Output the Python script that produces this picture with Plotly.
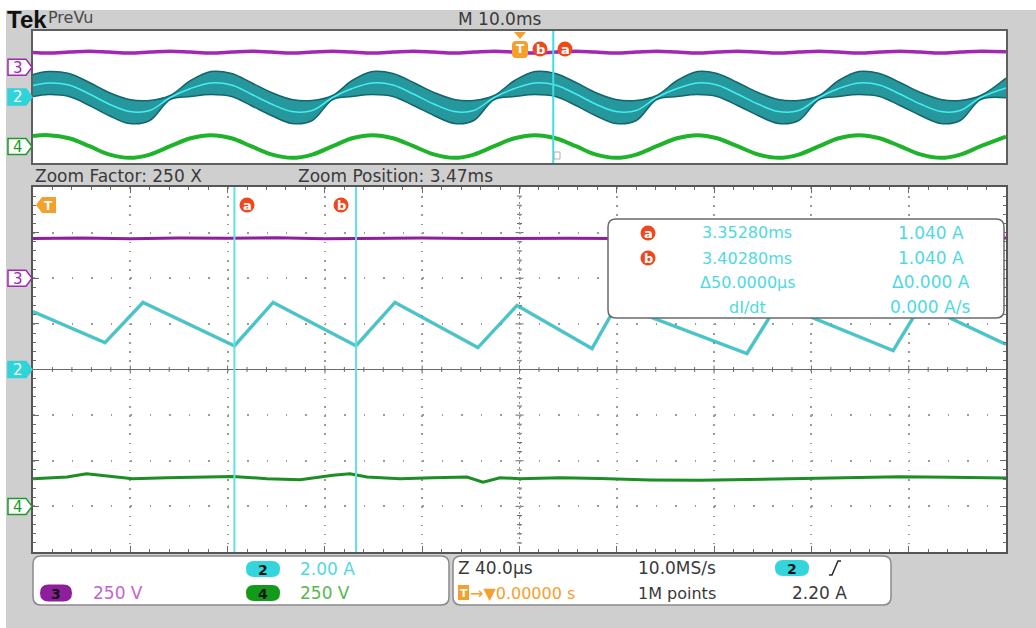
import plotly.graph_objects as go

# ---------------------------------------------------------------- data
# channel settings (volts or amps per division)
CH2_A_PER_DIV = 2.00
CH3_V_PER_DIV = 250
CH4_V_PER_DIV = 250

# ground-reference positions (divisions from screen centre) per window
MAIN_OFFSET = {"ch2": 0.0, "ch3": 2.0, "ch4": -3.0}
TOP_OFFSET = {"ch2": 0.0, "ch3": 1.8, "ch4": -3.0}

# record overview (M 10.0ms/div), time relative to trigger [ms]
top_t_ms = [-50.0, -48.4, -46.3, -44.2, -42.2, -40.1, -38.0, -35.9, -33.8,
            -31.7, -29.6, -27.6, -25.5, -23.4, -21.3, -19.2, -17.2,
            -15.1, -13.0, -10.9, -8.8, -6.7, -4.7, -2.6, -0.5,
            1.6, 3.7, 5.8, 7.8, 9.9, 12.0, 14.1, 16.2,
            18.3, 20.3, 22.4, 24.5, 26.6, 28.7, 30.8, 32.8,
            34.9, 37.0, 39.1, 41.2, 43.3, 45.3, 47.4, 50.0]
# channel 2 current: upper / lower edge of the ripple envelope and its mid line [A]
top_ch2_upper = [2.73, 3.09, 2.85, 1.76, 0.55, -0.30, -0.42, 0.18, 2.00,
                 3.09, 2.85, 1.76, 0.55, -0.30, -0.42, 0.18, 2.00,
                 3.09, 2.85, 1.76, 0.55, -0.30, -0.42, 0.18, 2.00,
                 3.09, 2.85, 1.76, 0.55, -0.30, -0.42, 0.18, 2.00,
                 3.09, 2.85, 1.76, 0.55, -0.30, -0.42, 0.18, 2.00,
                 3.09, 2.85, 1.76, 0.55, -0.30, -0.42, 0.18, 2.30]
top_ch2_lower = [0.06, 0.30, 0.06, -1.03, -2.24, -3.21, -2.85, -0.30, 0.06,
                 0.30, 0.06, -1.03, -2.24, -3.21, -2.85, -0.30, 0.06,
                 0.30, 0.06, -1.03, -2.24, -3.21, -2.85, -0.30, 0.06,
                 0.30, 0.06, -1.03, -2.24, -3.21, -2.85, -0.30, 0.06,
                 0.30, 0.06, -1.03, -2.24, -3.21, -2.85, -0.30, 0.06,
                 0.30, 0.06, -1.03, -2.24, -3.21, -2.85, -0.30, -0.10]
top_ch2_mid = [1.40, 1.70, 1.45, 0.36, -0.85, -1.76, -1.64, -0.06, 1.03,
               1.70, 1.45, 0.36, -0.85, -1.76, -1.64, -0.06, 1.03,
               1.70, 1.45, 0.36, -0.85, -1.76, -1.64, -0.06, 1.03,
               1.70, 1.45, 0.36, -0.85, -1.76, -1.64, -0.06, 1.03,
               1.70, 1.45, 0.36, -0.85, -1.76, -1.64, -0.06, 1.03,
               1.70, 1.45, 0.36, -0.85, -1.76, -1.64, -0.06, 1.10]
# channel 3 bus voltage [V]
top_ch3_v = [225, 216, 230, 244, 230, 216, 230, 244, 230,
             216, 230, 244, 230, 216, 230, 244, 230,
             216, 230, 244, 230, 216, 230, 244, 230,
             216, 230, 244, 230, 216, 230, 244, 230,
             216, 230, 244, 230, 216, 230, 244, 230,
             216, 230, 244, 230, 216, 230, 244, 234]
# channel 4 line voltage [V]
top_ch4_v = [160, 172, 125, 5, -120, -172, -122, 5, 125,
             172, 125, 5, -120, -172, -122, 5, 125,
             172, 125, 5, -120, -172, -122, 5, 125,
             172, 125, 5, -120, -172, -122, 5, 125,
             172, 125, 5, -120, -172, -122, 5, 125,
             172, 125, 5, -120, -172, -122, 5, 150]

# zoom window (Z 40.0us/div around 3.47 ms)
ZOOM_POS_MS = 3.47
ZOOM_DIV_MS = 0.040
ch2_t_ms = [3.270, 3.2996, 3.3152, 3.3528, 3.3687, 3.4028, 3.4188, 3.4529,
            3.4690, 3.4998, 3.5101, 3.5635, 3.5763, 3.6236, 3.6351, 3.6700]
ch2_i_a = [2.54, 1.18, 2.94, 1.04, 2.94, 1.04, 2.94, 0.96,
           2.81, 0.92, 2.85, 0.70, 2.89, 0.83, 2.85, 1.10]
ch3_t_ms = [3.270, 3.290, 3.310, 3.330, 3.350, 3.370, 3.390, 3.410, 3.430,
            3.450, 3.470, 3.490, 3.510, 3.550, 3.590, 3.630, 3.670]
ch3_v = [218, 221, 216, 220, 219, 222, 217, 220, 221,
         218, 220, 219, 218, 220, 219, 218, 220]
ch4_t_ms = [3.270, 3.284, 3.292, 3.2975, 3.311, 3.325, 3.3387, 3.3522, 3.3662,
            3.3798, 3.3933, 3.4003, 3.4073, 3.4209, 3.4344, 3.4484, 3.455,
            3.462, 3.470, 3.4866, 3.5031, 3.5236, 3.5442, 3.5648, 3.5853,
            3.6059, 3.6264, 3.647, 3.670]
ch4_v = [152, 161, 179, 170, 152, 157, 161, 164, 152,
         146, 170, 179, 161, 152, 157, 161, 133,
         157, 152, 157, 153, 145, 143, 148, 153,
         159, 162, 159, 156]

# cursors
cursor_a_ms, cursor_a_a = 3.35280, 1.040
cursor_b_ms, cursor_b_a = 3.40280, 1.040

# ---------------------------------------------------------------- geometry
W, H = 1036, 628
PL, PR = 33, 1006          # panel left/right
MT, MB = 187, 552          # zoom window top/bottom
TT, TB = 31, 163           # overview window top/bottom
FONT = "DejaVu Sans"

C_CH2 = "#33ccd2"
C_CH3 = "#a227b3"
C_CH4 = "#1fb22b"
C_CURSOR_TXT = "#4fd9df"
C_ORANGE = "#f5a02c"
C_RED = "#f0481c"
C_TXT = "#3a3a3a"


def px(x):
    return x / W


def py(y):
    return 1 - y / H


def to_div(vals, per_div, off):
    return [v / per_div + off for v in vals]


def main_y(off):
    return (MT + MB) / 2 - off * (MB - MT) / 8


def top_y(off):
    return (TT + TB) / 2 - off * (TB - TT) / 8


shapes = []
ann = []


def rect(x0, y0, x1, y1, fill, line=None, lw=0, layer="below"):
    shapes.append(dict(type="rect", xref="paper", yref="paper",
                       x0=px(x0), x1=px(x1), y0=py(y1), y1=py(y0),
                       fillcolor=fill, line=dict(color=line or fill, width=lw),
                       layer=layer))


def rrect(x0, y0, x1, y1, r, fill, line, lw=1.5, layer="above"):
    p = (f"M{px(x0 + r)},{py(y0)} L{px(x1 - r)},{py(y0)} "
         f"Q{px(x1)},{py(y0)} {px(x1)},{py(y0 + r)} L{px(x1)},{py(y1 - r)} "
         f"Q{px(x1)},{py(y1)} {px(x1 - r)},{py(y1)} L{px(x0 + r)},{py(y1)} "
         f"Q{px(x0)},{py(y1)} {px(x0)},{py(y1 - r)} L{px(x0)},{py(y0 + r)} "
         f"Q{px(x0)},{py(y0)} {px(x0 + r)},{py(y0)} Z")
    shapes.append(dict(type="path", xref="paper", yref="paper", path=p,
                       fillcolor=fill, line=dict(color=line, width=lw), layer=layer))


def text(x, y, s, color=C_TXT, size=17, anchor="left", family=FONT):
    ann.append(dict(x=px(x), y=py(y), xref="paper", yref="paper", text=s,
                    showarrow=False, xanchor=anchor, yanchor="middle",
                    borderpad=0, font=dict(family=family, size=size, color=color)))


def badge(x, y, letter, r=7.5):
    shapes.append(dict(type="circle", xref="paper", yref="paper",
                       x0=px(x - r), x1=px(x + r), y0=py(y + r), y1=py(y - r),
                       fillcolor=C_RED, line=dict(color=C_RED, width=0), layer="above"))
    text(x, y + 0.5, f"<b>{letter}</b>", "white", 13, "center")


def tag(y, label, color, filled):
    p = (f"M{px(8)},{py(y - 8)} L{px(26)},{py(y - 8)} L{px(32)},{py(y)} "
         f"L{px(26)},{py(y + 8)} L{px(8)},{py(y + 8)} Z")
    shapes.append(dict(type="path", xref="paper", yref="paper", path=p,
                       fillcolor=color if filled else "white",
                       line=dict(color=color, width=1.5), layer="above"))
    text(17.5, y + 0.5, label, "white" if filled else color, 15, "center")


def pill(x, y, label, color, w=34, h=16):
    rrect(x - w / 2, y - h / 2, x + w / 2, y + h / 2, h / 2, color, color, 0)
    text(x, y + 0.5, f"<b>{label}</b>", "#151515", 14, "center")


# ---------------------------------------------------------------- background
rect(6, 10, W, H, "#cfcfcf")
rect(PL, TT, PR, TB, "white")
rect(PL, MT, PR, MB, "white")

fig = go.Figure()

# ---------------------------------------------------------------- overview traces
fig.add_trace(go.Scatter(x=top_t_ms, y=to_div(top_ch3_v, CH3_V_PER_DIV, TOP_OFFSET["ch3"]),
                         mode="lines", line=dict(color=C_CH3, width=3.5, shape="spline"),
                         xaxis="x2", yaxis="y2", hoverinfo="skip"))
fig.add_trace(go.Scatter(x=top_t_ms, y=to_div(top_ch2_lower, CH2_A_PER_DIV, TOP_OFFSET["ch2"]),
                         mode="lines", line=dict(color="#15646a", width=1.5, shape="spline"),
                         xaxis="x2", yaxis="y2", hoverinfo="skip"))
fig.add_trace(go.Scatter(x=top_t_ms, y=to_div(top_ch2_upper, CH2_A_PER_DIV, TOP_OFFSET["ch2"]),
                         mode="lines", line=dict(color="#15646a", width=1.5, shape="spline"),
                         fill="tonexty", fillcolor="#26979c",
                         xaxis="x2", yaxis="y2", hoverinfo="skip"))
fig.add_trace(go.Scatter(x=top_t_ms, y=to_div(top_ch2_mid, CH2_A_PER_DIV, TOP_OFFSET["ch2"]),
                         mode="lines", line=dict(color="#44eef3", width=1.5, shape="spline"),
                         xaxis="x2", yaxis="y2", hoverinfo="skip"))
fig.add_trace(go.Scatter(x=top_t_ms, y=to_div(top_ch4_v, CH4_V_PER_DIV, TOP_OFFSET["ch4"]),
                         mode="lines", line=dict(color=C_CH4, width=4, shape="spline"),
                         xaxis="x2", yaxis="y2", hoverinfo="skip"))

# ---------------------------------------------------------------- zoom traces
fig.add_trace(go.Scatter(x=ch3_t_ms, y=to_div(ch3_v, CH3_V_PER_DIV, MAIN_OFFSET["ch3"]),
                         mode="lines", line=dict(color="#8d1f9c", width=3),
                         hoverinfo="skip"))
fig.add_trace(go.Scatter(x=ch2_t_ms, y=to_div(ch2_i_a, CH2_A_PER_DIV, MAIN_OFFSET["ch2"]),
                         mode="lines", line=dict(color="#1f8e94", width=3.5),
                         opacity=0.6, hoverinfo="skip"))
fig.add_trace(go.Scatter(x=ch2_t_ms, y=to_div(ch2_i_a, CH2_A_PER_DIV, MAIN_OFFSET["ch2"]),
                         mode="lines", line=dict(color=C_CH2, width=2),
                         hoverinfo="skip"))
fig.add_trace(go.Scatter(x=ch4_t_ms, y=to_div(ch4_v, CH4_V_PER_DIV, MAIN_OFFSET["ch4"]),
                         mode="lines", line=dict(color="#1c8e23", width=3),
                         hoverinfo="skip"))

# ---------------------------------------------------------------- graticule details
cx = (PL + PR) / 2
cy = (MT + MB) / 2
hdiv = (PR - PL) / 10
vdiv = (MB - MT) / 8
ticks = []
for i in range(1, 50):
    x = PL + i * hdiv / 5
    L = 4 if i % 5 == 0 else 2.5
    ticks.append(f"M{px(x)},{py(cy - L)} L{px(x)},{py(cy + L)}")
for j in range(1, 40):
    y = MT + j * vdiv / 5
    L = 4 if j % 5 == 0 else 2.5
    ticks.append(f"M{px(cx - L)},{py(y)} L{px(cx + L)},{py(y)}")
shapes.append(dict(type="path", xref="paper", yref="paper", path=" ".join(ticks),
                   line=dict(color="#6a6a6a", width=1), layer="between"))
shapes.append(dict(type="line", xref="paper", yref="paper",
                   x0=px(cx), x1=px(cx), y0=py(MT), y1=py(MB),
                   line=dict(color="#8a8a8a", width=1, dash="2px,3px"), layer="between"))

# cursors in the zoom window
for t in (cursor_a_ms, cursor_b_ms):
    shapes.append(dict(type="line", xref="x", yref="paper", x0=t, x1=t,
                       y0=py(MB), y1=py(MT), line=dict(color="#5fe2e8", width=2),
                       layer="above"))
# zoom position in the overview
shapes.append(dict(type="line", xref="x2", yref="paper", x0=ZOOM_POS_MS, x1=ZOOM_POS_MS,
                   y0=py(TB), y1=py(TT), line=dict(color="#3fdde3", width=2), layer="above"))
shapes.append(dict(type="rect", xref="paper", yref="paper", x0=px(554), x1=px(560),
                   y0=py(159), y1=py(152), line=dict(color="#b0b0b0", width=1),
                   fillcolor="rgba(0,0,0,0)", layer="above"))

# ---------------------------------------------------------------- cursor readout
rrect(608, 219, 1004, 318, 8, "white", "#6a6a6a", 1.5)
badge(648, 233, "a")
badge(648, 258, "b")
text(747, 233, f"{cursor_a_ms:.5f}ms", C_CURSOR_TXT, 16, "center")
text(747, 258, f"{cursor_b_ms:.5f}ms", C_CURSOR_TXT, 16, "center")
text(748, 282, f"Δ{(cursor_b_ms - cursor_a_ms) * 1000:.4f}µs", C_CURSOR_TXT, 16, "center")
text(747, 307, "dI/dt", C_CURSOR_TXT, 16, "center")
dI = cursor_b_a - cursor_a_a
text(931, 233, f"{cursor_a_a:.3f} A", C_CURSOR_TXT, 17, "center")
text(931, 258, f"{cursor_b_a:.3f} A", C_CURSOR_TXT, 17, "center")
text(931, 282, f"Δ{abs(dI):.3f} A", C_CURSOR_TXT, 17, "center")
text(930, 307, f"{dI / ((cursor_b_ms - cursor_a_ms) / 1000):.3f} A/s", C_CURSOR_TXT, 17, "center")

# cursor badges on the zoom window
badge(247, 205, "a")
badge(341, 205, "b")

# trigger marker on the zoom window (points left)
p = (f"M{px(36)},{py(205)} L{px(42)},{py(197)} L{px(56)},{py(197)} "
     f"L{px(56)},{py(213)} L{px(42)},{py(213)} Z")
shapes.append(dict(type="path", xref="paper", yref="paper", path=p,
                   fillcolor=C_ORANGE, line=dict(color=C_ORANGE, width=0), layer="above"))
text(48, 205.5, "<b>T</b>", "white", 12, "center")

# trigger + cursor badges on the overview
tri = f"M{px(514)},{py(32)} L{px(526)},{py(32)} L{px(520)},{py(39)} Z"
shapes.append(dict(type="path", xref="paper", yref="paper", path=tri,
                   fillcolor=C_ORANGE, line=dict(color=C_ORANGE, width=0), layer="above"))
rrect(512, 41, 528, 58, 4, C_ORANGE, C_ORANGE, 0)
text(520, 49.5, "<b>T</b>", "white", 12, "center")
badge(540, 49, "b")
badge(565, 49, "a")

# channel ground tags
tag(top_y(TOP_OFFSET["ch3"]), "3", C_CH3, False)
tag(top_y(TOP_OFFSET["ch2"]), "2", "#2fd3da", True)
tag(top_y(TOP_OFFSET["ch4"]), "4", "#1a9a24", False)
tag(main_y(MAIN_OFFSET["ch3"]), "3", C_CH3, False)
tag(main_y(MAIN_OFFSET["ch2"]), "2", "#2fd3da", True)
tag(main_y(MAIN_OFFSET["ch4"]), "4", "#1a9a24", False)

# ---------------------------------------------------------------- header text
text(6, 19, "<b>Tek</b>", "#111111", 24, "left", "Liberation Sans")
text(47, 17, "PreVu", "#4a4a4a", 16)
text(499, 19, "M 10.0ms", C_TXT, 17, "center")
text(34, 176, "Zoom Factor: 250 X", C_TXT, 17)
text(297, 176, f"Zoom Position: {ZOOM_POS_MS:.2f}ms", C_TXT, 17)

# ---------------------------------------------------------------- status bar
rrect(33, 556, 449, 605, 8, "white", "#8a8a8a", 1.5)
rrect(453, 556, 891, 605, 8, "white", "#8a8a8a", 1.5)
pill(263, 569, "2", "#34d6dc")
text(299, 569, f"{CH2_A_PER_DIV:.2f} A", "#4fd9df", 17)
pill(56, 593, "3", "#8e1f9c", 32, 17)
text(92, 593, f"{CH3_V_PER_DIV} V", "#c462d2", 17)
pill(263, 593, "4", "#139a1a")
text(299, 593, f"{CH4_V_PER_DIV} V", "#57b84e", 17)

text(457, 568, f"Z {ZOOM_DIV_MS * 1000:.1f}µs", C_TXT, 17)
text(637, 568, "10.0MS/s", C_TXT, 17)
pill(792, 568, "2", "#34d6dc")
slope = f"M{px(829)},{py(575)} L{px(832)},{py(575)} L{px(838)},{py(561)} L{px(841)},{py(561)}"
shapes.append(dict(type="path", xref="paper", yref="paper", path=slope,
                   line=dict(color="#2a2a2a", width=1.5), layer="above"))
rect(458, 585, 469, 600, C_ORANGE, layer="above")
text(463.5, 593, "<b>T</b>", "white", 11, "center")
text(469, 593, "→▼0.00000 s", C_ORANGE, 16)
text(637, 593, "1M points", C_TXT, 16)
text(791, 593, "2.20 A", C_TXT, 17)

# ---------------------------------------------------------------- axes
xdom = [px(PL), px(PR)]
fig.update_layout(
    width=W, height=H, margin=dict(l=0, r=0, t=0, b=0),
    paper_bgcolor="white", plot_bgcolor="rgba(0,0,0,0)",
    showlegend=False, shapes=shapes, annotations=ann,
    xaxis=dict(domain=xdom, range=[ZOOM_POS_MS - 5 * ZOOM_DIV_MS, ZOOM_POS_MS + 5 * ZOOM_DIV_MS],
               tick0=ZOOM_POS_MS - 5 * ZOOM_DIV_MS, dtick=ZOOM_DIV_MS,
               showticklabels=False, ticks="inside", ticklen=6, tickcolor="#6a6a6a",
               showline=True, linecolor="#555555", linewidth=1.5, mirror="ticks",
               showgrid=True, gridcolor="#9a9a9a", gridwidth=1.5, griddash="1.5px,7.625px",
               zeroline=False, fixedrange=True, anchor="y",
               minor=dict(ticks="inside", ticklen=3, dtick=ZOOM_DIV_MS / 5,
                          tick0=ZOOM_POS_MS - 5 * ZOOM_DIV_MS, tickcolor="#6a6a6a", showgrid=False)),
    yaxis=dict(domain=[py(MB), py(MT)], range=[-4, 4], tick0=0, dtick=1,
               showticklabels=False, ticks="inside", ticklen=6, tickcolor="#6a6a6a",
               showline=True, linecolor="#555555", linewidth=1.5, mirror="ticks",
               showgrid=True, gridcolor="#9a9a9a", gridwidth=1.5, griddash="1.5px,17.96px",
               zeroline=True, zerolinecolor="#6a6a6a", zerolinewidth=1,
               fixedrange=True, anchor="x",
               minor=dict(ticks="inside", ticklen=3, dtick=0.2, tickcolor="#6a6a6a", showgrid=False)),
    xaxis2=dict(domain=xdom, range=[-50, 50], showticklabels=False, ticks="",
                showline=True, linecolor="#5f5f5f", linewidth=1.5, mirror=True,
                showgrid=False, zeroline=False, fixedrange=True, anchor="y2"),
    yaxis2=dict(domain=[py(TB), py(TT)], range=[-4, 4], showticklabels=False, ticks="",
                showline=True, linecolor="#5f5f5f", linewidth=1.5, mirror=True,
                showgrid=False, zeroline=False, fixedrange=True, anchor="x2"),
)

fig.write_html("out.html")
